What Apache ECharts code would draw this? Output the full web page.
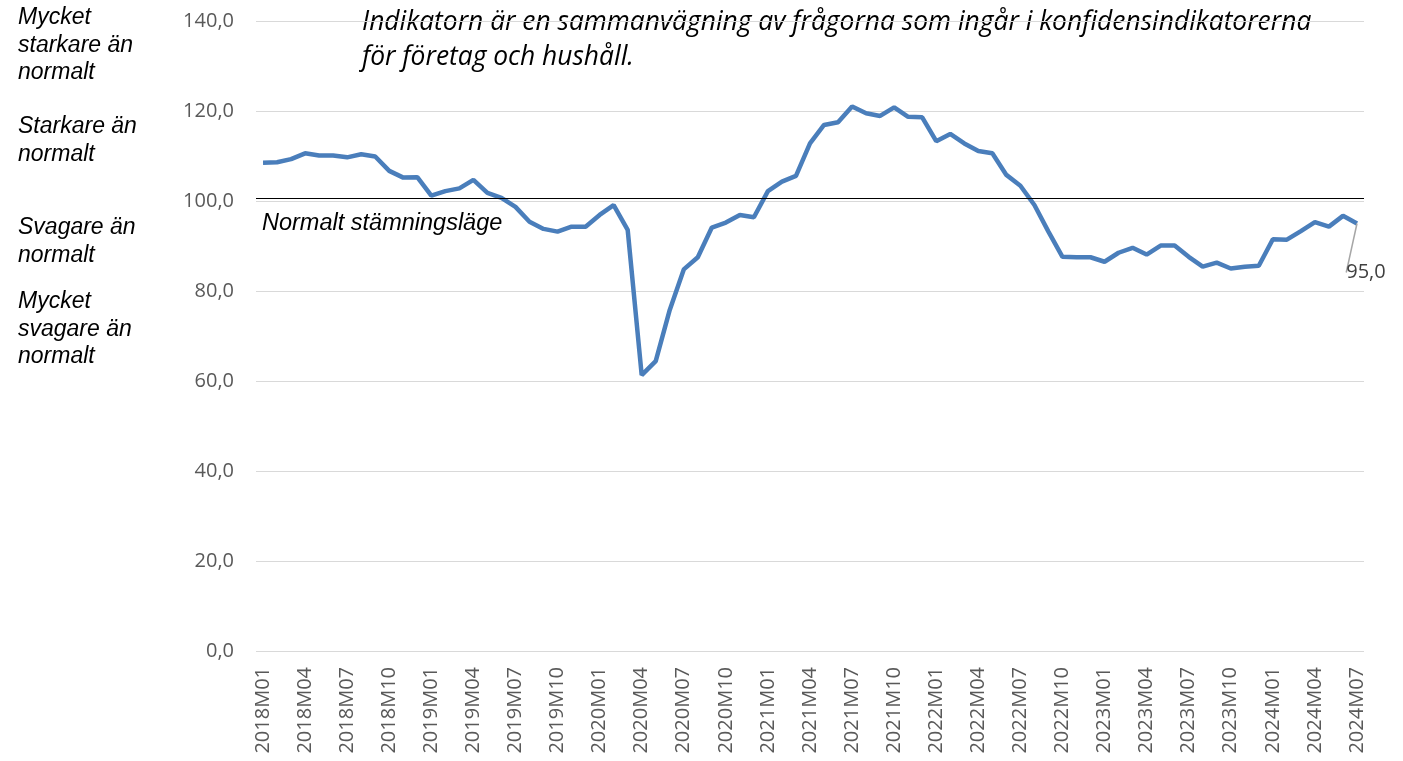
<!DOCTYPE html>
<html>
<head>
<meta charset="utf-8">
<title>Stämningsläge</title>
<script src="https://cdn.jsdelivr.net/npm/echarts@6/dist/echarts.min.js"></script>
<style>
  html, body { margin: 0; padding: 0; background: #fff; }
  #chart { width: 1403px; height: 761px; }
</style>
</head>
<body>
<div id="chart"></div>
<script>
// månader 2018M01 - 2024M07
const years = [2018, 2019, 2020, 2021, 2022, 2023, 2024];
const months = [];
years.forEach(function (y) {
  for (let m = 1; m <= 12; m++) {
    if (y === 2024 && m > 7) break;
    months.push(y + 'M' + (m < 10 ? '0' + m : m));
  }
});

// indikatorvärden
const values = [
  108.5, 108.6, 109.3, 110.6, 110.1, 110.1, 109.7, 110.4, 109.9, 106.7, 105.2, 105.3,
  101.2, 102.2, 102.8, 104.7, 101.8, 100.7, 98.7, 95.4, 93.8, 93.2, 94.3, 94.3,
  96.9, 99.1, 93.6, 61.3, 64.4, 75.8, 84.8, 87.5, 94.1, 95.2, 96.9, 96.4,
  102.2, 104.3, 105.6, 112.8, 116.9, 117.5, 121.0, 119.5, 118.9, 120.8, 118.7, 118.6,
  113.3, 114.9, 112.8, 111.1, 110.6, 105.8, 103.4, 99.1, 93.2, 87.6, 87.5, 87.5,
  86.5, 88.5, 89.6, 88.1, 90.1, 90.1, 87.6, 85.4, 86.3, 85.0, 85.4, 85.6,
  91.5, 91.4, 93.3, 95.3, 94.3, 96.7, 95.0
];

const yTicks = [0, 20, 40, 60, 80, 100, 120, 140];
const normalLevel = 100.6;

const leftNotes = [
  { text: 'Mycket\nstarkare än\nnormalt', top: 4 },
  { text: 'Starkare än\nnormalt', top: 113 },
  { text: 'Svagare än\nnormalt', top: 214 },
  { text: 'Mycket\nsvagare än\nnormalt', top: 288 }
];

const chart = echarts.init(document.getElementById('chart'));
const last = values.length - 1;
const fmt = function (v) { return v.toFixed(1).replace('.', ','); };

const option = {
  animation: false,
  backgroundColor: '#fff',
  grid: { left: 256, right: 39, top: 21, bottom: 110 },
  xAxis: {
    type: 'category',
    data: months,
    boundaryGap: true,
    axisLine: { show: false },
    axisTick: { show: false },
    axisLabel: {
      interval: 2,
      rotate: 90,
      margin: 16,
      color: '#595959',
      fontSize: 20,
      fontFamily: 'Open Sans'
    }
  },
  yAxis: {
    type: 'value',
    min: yTicks[0],
    max: yTicks[yTicks.length - 1],
    interval: 20,
    axisLine: { show: false },
    axisTick: { show: false },
    axisLabel: {
      margin: 22,
      color: '#595959',
      fontSize: 20,
      fontFamily: 'Open Sans',
      formatter: fmt
    },
    splitLine: { lineStyle: { color: '#d9d9d9', width: 1 } }
  },
  series: [{
    type: 'line',
    data: values.map(function (v, i) {
      if (i !== last) return v;
      return {
        value: v,
        label: {
          show: true,
          position: 'bottom',
          formatter: function (p) { return fmt(p.value); },
          color: '#404040',
          fontSize: 20,
          fontFamily: 'Open Sans'
        }
      };
    }),
    symbol: 'circle',
    symbolSize: 0,
    showSymbol: true,
    showAllSymbol: true,
    lineStyle: { color: '#4a7ebb', width: 4.5 },
    labelLine: { show: true, lineStyle: { color: '#a6a6a6', width: 1.5 } },
    labelLayout: function (p) {
      if (p.dataIndex !== last) return {};
      return { dx: 9, dy: 34 };
    },
    markLine: {
      silent: true,
      symbol: 'none',
      label: { show: false },
      lineStyle: { color: '#000', width: 1, type: 'solid' },
      data: [{ yAxis: normalLevel }]
    },
    z: 3
  }],
  graphic: leftNotes.map(function (n) {
    return {
      type: 'text',
      left: 18,
      top: n.top,
      style: {
        text: n.text,
        fill: '#000',
        font: 'italic 23px "Liberation Sans", Arial, sans-serif',
        lineHeight: 27.5
      }
    };
  }).concat([
    {
      type: 'text',
      left: 362,
      top: 5,
      style: {
        text: 'Indikatorn är en sammanvägning av frågorna som ingår i konfidensindikatorerna\nför företag och hushåll.',
        fill: '#000',
        font: 'italic 26.4px "Open Sans", sans-serif',
        lineHeight: 35
      }
    },
    {
      type: 'text',
      left: 262,
      top: 212,
      style: {
        text: 'Normalt stämningsläge',
        fill: '#000',
        font: 'italic 23.5px "Liberation Sans", Arial, sans-serif'
      }
    }
  ])
};

chart.setOption(option);
</script>
</body>
</html>
